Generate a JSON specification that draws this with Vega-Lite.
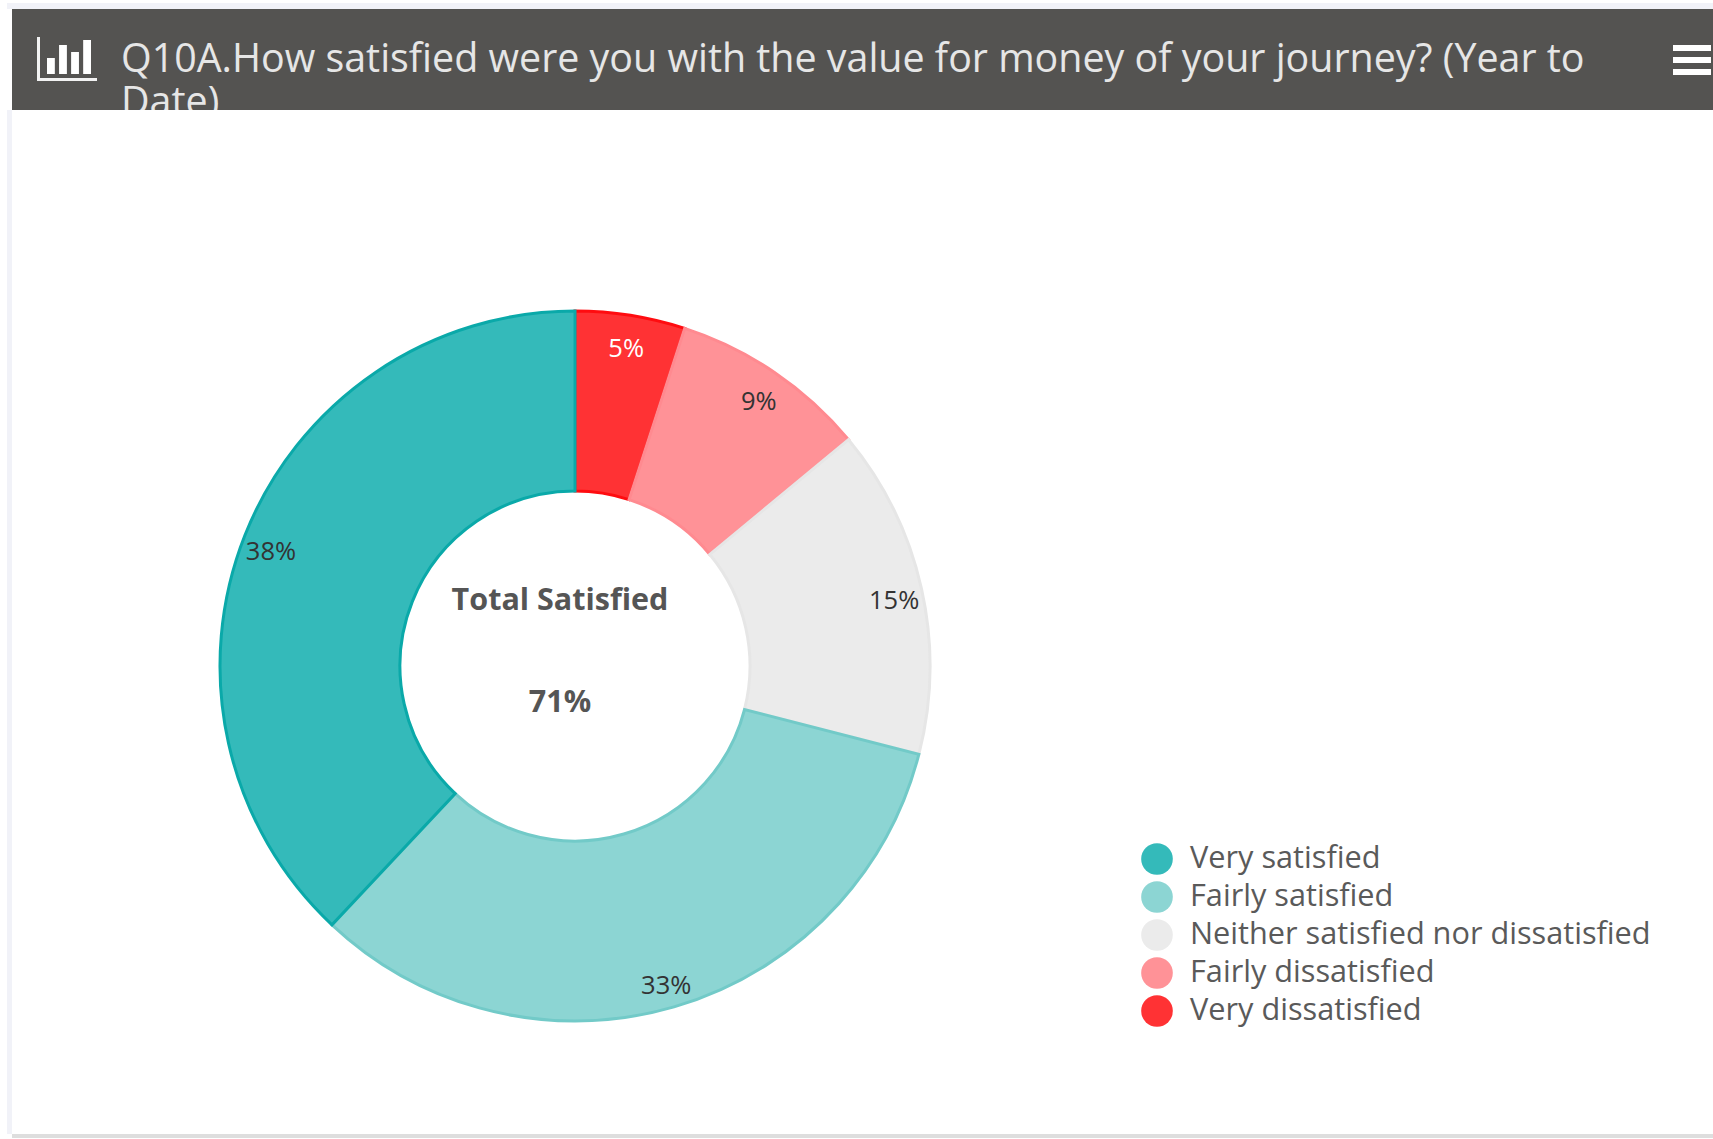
{"$schema":"https://vega.github.io/schema/vega-lite/v6.json","padding":{"left":7,"top":3,"right":0,"bottom":0},"background":"white","config":{"view":{"stroke":null}},"spacing":0,"datasets":{"d":[{"cat":"Very dissatisfied","v":5,"o":1,"pct":"5%"},{"cat":"Fairly dissatisfied","v":9,"o":2,"pct":"9%"},{"cat":"Neither satisfied nor dissatisfied","v":15,"o":3,"pct":"15%"},{"cat":"Fairly satisfied","v":33,"o":4,"pct":"33%"},{"cat":"Very satisfied","v":38,"o":5,"pct":"38%"}],"one":[{"part":"decoration"}]},"vconcat":[{"width":1701,"height":101,"view":{"fill":"#545351"},"resolve":{"scale":{"y":"independent","x":"independent"}},"layer":[{"data":{"name":"one"},"mark":{"type":"rect","color":"#f1f2f8"},"encoding":{"x":{"value":-5},"x2":{"value":1701},"y":{"value":-6},"y2":{"value":0}}},{"data":{"values":[{"line":"Q10A.How satisfied were you with the value for money of your journey? (Year to","row":1},{"line":"Date)","row":2}]},"mark":{"type":"text","clip":true,"font":"Open Sans","fontSize":39.4,"color":"#e6e6e6","align":"left","x":109,"baseline":"alphabetic"},"encoding":{"y":{"field":"row","type":"ordinal","axis":null,"scale":{"domain":[1,2],"range":[63,106],"padding":0}},"text":{"field":"line"}}},{"data":{"values":[{"i":1,"h":16},{"i":2,"h":29},{"i":3,"h":22},{"i":4,"h":34}]},"mark":{"type":"bar","color":"#ffffff"},"encoding":{"x":{"field":"i","type":"ordinal","axis":null,"scale":{"range":[35,79],"paddingInner":0.35,"paddingOuter":0}},"y":{"field":"h","type":"quantitative","axis":null,"scale":{"domain":[0,34],"range":[65,31]}}}},{"data":{"name":"one"},"mark":{"type":"rect","color":"#f2f2f2"},"encoding":{"x":{"value":25},"x2":{"value":85},"y":{"value":69},"y2":{"value":72}}},{"data":{"name":"one"},"mark":{"type":"rect","color":"#f2f2f2"},"encoding":{"x":{"value":25},"x2":{"value":28},"y":{"value":28},"y2":{"value":72}}},{"data":{"name":"one"},"mark":{"type":"rect","color":"#ffffff"},"encoding":{"x":{"value":1661},"x2":{"value":1699},"y":{"value":36},"y2":{"value":42}}},{"data":{"name":"one"},"mark":{"type":"rect","color":"#ffffff"},"encoding":{"x":{"value":1661},"x2":{"value":1699},"y":{"value":48},"y2":{"value":54}}},{"data":{"name":"one"},"mark":{"type":"rect","color":"#ffffff"},"encoding":{"x":{"value":1661},"x2":{"value":1699},"y":{"value":60},"y2":{"value":66}}}]},{"width":1126,"height":940,"layer":[{"data":{"name":"one"},"mark":{"type":"rect","color":"#f1f2f8"},"encoding":{"x":{"value":-5},"x2":{"value":0},"y":{"value":-86},"y2":{"value":938}}},{"data":{"name":"one"},"mark":{"type":"rect","color":"#dedede"},"encoding":{"x":{"value":0},"x2":{"value":1701},"y":{"value":938},"y2":{"value":942}}},{"data":{"name":"d"},"mark":{"type":"arc","innerRadius":175,"outerRadius":355,"strokeWidth":3},"encoding":{"theta":{"field":"v","type":"quantitative","stack":true},"order":{"field":"o"},"color":{"field":"cat","type":"nominal","scale":{"domain":["Very satisfied","Fairly satisfied","Neither satisfied nor dissatisfied","Fairly dissatisfied","Very dissatisfied"],"range":["#34baba","#8cd5d3","#ebebeb","#ff9297","#ff3234"]},"legend":{"title":null,"orient":"none","legendX":1129,"legendY":834,"symbolType":"circle","symbolSize":1000,"symbolStrokeWidth":0,"labelFont":"Open Sans","labelFontSize":30.7,"labelColor":"#5a5a5a","labelLimit":600,"rowPadding":6,"clipHeight":32,"labelOffset":17}},"stroke":{"field":"cat","type":"nominal","legend":null,"scale":{"domain":["Very satisfied","Fairly satisfied","Neither satisfied nor dissatisfied","Fairly dissatisfied","Very dissatisfied"],"range":["#0aa9a9","#72cac8","#e6e6e6","#ff8a90","#ff0c10"]}}}},{"data":{"name":"d"},"mark":{"type":"text","radius":327,"dy":6,"font":"Open Sans","fontSize":25.5},"encoding":{"theta":{"field":"v","type":"quantitative","stack":true},"order":{"field":"o"},"text":{"field":"pct"},"color":{"condition":{"test":"datum.o==1","value":"#ffffff"},"value":"#333333"}}},{"data":{"values":[{"t":"Total Satisfied"}]},"mark":{"type":"text","dx":-15,"dy":-65,"font":"Open Sans","fontWeight":"bold","fontSize":30.5,"color":"#555555"},"encoding":{"text":{"field":"t"}}},{"data":{"values":[{"t":"71%"}]},"mark":{"type":"text","dx":-15,"dy":37,"font":"Open Sans","fontWeight":"bold","fontSize":30.5,"color":"#555555"},"encoding":{"text":{"field":"t"}}}]}]}
